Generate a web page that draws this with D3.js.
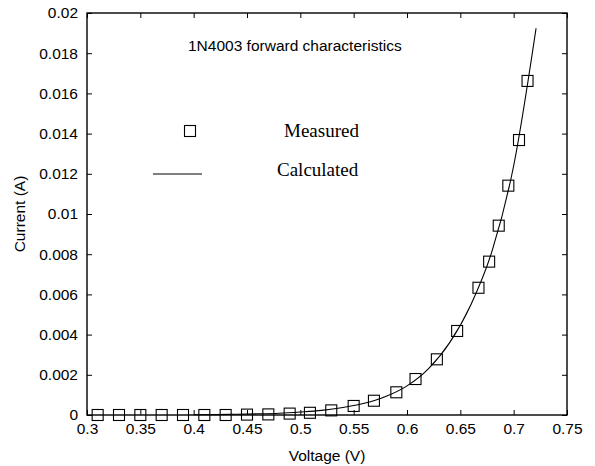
<!DOCTYPE html>
<html>
<head>
<meta charset="utf-8">
<script src="https://cdn.jsdelivr.net/npm/d3@7"></script>
<style>
  body { margin: 0; background: #fff; }
  svg text { fill: #000; }
  .tick-label { font-family: "Liberation Sans", Arial, sans-serif; font-size: 15.5px; }
  .axis-label { font-family: "Liberation Sans", Arial, sans-serif; font-size: 15.5px; }
  .legend-text { font-family: "Liberation Serif", "Times New Roman", serif; font-size: 19px; }
</style>
</head>
<body>
<div class="chart"></div>
<script>
// measured points (voltage V, current A)
const measuredV = [0.31, 0.33, 0.35, 0.37, 0.39, 0.41, 0.43, 0.45, 0.47, 0.49,
  0.509, 0.529, 0.55, 0.569, 0.59, 0.608, 0.628, 0.647, 0.667, 0.677, 0.686, 0.695, 0.705, 0.713];
const measuredI = [0, 0, 0, 0, 0, 0, 0, 0.00002, 0.00003, 0.00007,
  0.00011, 0.00023, 0.00045, 0.00071, 0.00113, 0.00179, 0.00277, 0.00418, 0.00633, 0.00763, 0.00942, 0.01141, 0.01368, 0.01662];

// calculated curve
const calcV = [0.40, 0.42, 0.44, 0.46, 0.48, 0.50, 0.52, 0.54, 0.56, 0.58, 0.60, 0.62, 0.64, 0.66, 0.68, 0.70, 0.721];
const calcI = [0.00001, 0.00002, 0.00004, 0.00006, 0.00009, 0.00015, 0.00023, 0.00037, 0.00058, 0.00092, 0.00145, 0.0023, 0.0036, 0.0055, 0.0082, 0.0124, 0.01924];

const xTicks = [0.3, 0.35, 0.4, 0.45, 0.5, 0.55, 0.6, 0.65, 0.7, 0.75];
const yTicks = [0, 0.002, 0.004, 0.006, 0.008, 0.01, 0.012, 0.014, 0.016, 0.018, 0.02];

const titleText = "1N4003 forward characteristics";
const legendNames = ["Measured", "Calculated"];

const width = 595, height = 466;
const margin = { top: 13, right: 28, bottom: 51, left: 87 };

const svg = d3.select(".chart")
  .append("svg")
  .attr("width", width)
  .attr("height", height);

const x = d3.scaleLinear()
  .domain([0.3, 0.75])
  .range([margin.left, width - margin.right]);

const y = d3.scaleLinear()
  .domain([0, 0.02])
  .range([height - margin.bottom, margin.top]);

const tickLen = 5;

// bottom axis (ticks inward)
svg.append("g")
  .attr("transform", "translate(0," + y(0) + ")")
  .call(d3.axisBottom(x).tickValues(xTicks).tickSize(-tickLen).tickPadding(tickLen + 3)
    .tickFormat(d => String(+d.toFixed(2))))
  .call(g => g.select(".domain").remove())
  .call(g => g.selectAll("text").attr("class", "tick-label").attr("font-size", null).attr("font-family", null));

// top axis ticks
svg.append("g")
  .attr("transform", "translate(0," + y(0.02) + ")")
  .call(d3.axisTop(x).tickValues(xTicks).tickSize(-tickLen).tickFormat(""))
  .call(g => g.select(".domain").remove());

// left axis
svg.append("g")
  .attr("transform", "translate(" + x(0.3) + ",0)")
  .call(d3.axisLeft(y).tickValues(yTicks).tickSize(-tickLen).tickPadding(tickLen + 4)
    .tickFormat(d => String(+d.toFixed(3))))
  .call(g => g.select(".domain").remove())
  .call(g => g.selectAll("text").attr("class", "tick-label").attr("font-size", null).attr("font-family", null));

// right axis ticks
svg.append("g")
  .attr("transform", "translate(" + x(0.75) + ",0)")
  .call(d3.axisRight(y).tickValues(yTicks).tickSize(-tickLen).tickFormat(""))
  .call(g => g.select(".domain").remove());

// frame
svg.append("rect")
  .attr("x", x(0.3))
  .attr("y", y(0.02))
  .attr("width", x(0.75) - x(0.3))
  .attr("height", y(0) - y(0.02))
  .attr("fill", "none")
  .attr("stroke", "#000")
  .attr("stroke-width", 1.4);

// calculated line
const calc = calcV.map((v, i) => ({ v: v, i: calcI[i] }));
svg.append("path")
  .datum(calc)
  .attr("fill", "none")
  .attr("stroke", "#000")
  .attr("stroke-width", 1.1)
  .attr("d", d3.line().x(d => x(d.v)).y(d => y(d.i)).curve(d3.curveMonotoneX));

// measured squares
const sq = 11;
const measured = measuredV.map((v, i) => ({ v: v, i: measuredI[i] }));
svg.append("g")
  .selectAll("rect")
  .data(measured)
  .enter()
  .append("rect")
  .attr("x", d => x(d.v) - sq / 2)
  .attr("y", d => y(d.i) - sq / 2)
  .attr("width", sq)
  .attr("height", sq)
  .attr("fill", "none")
  .attr("stroke", "#000")
  .attr("stroke-width", 1.1);

// title inside plot
svg.append("text")
  .attr("class", "axis-label")
  .attr("x", 188)
  .attr("y", 51)
  .text(titleText);

// legend
svg.append("rect")
  .attr("x", 190 - sq / 2)
  .attr("y", 131 - sq / 2)
  .attr("width", sq)
  .attr("height", sq)
  .attr("fill", "none")
  .attr("stroke", "#000")
  .attr("stroke-width", 1.1);
svg.append("text")
  .attr("class", "legend-text")
  .attr("x", 284)
  .attr("y", 137)
  .text(legendNames[0]);
svg.append("line")
  .attr("x1", 153).attr("x2", 202)
  .attr("y1", 174).attr("y2", 174)
  .attr("stroke", "#000")
  .attr("stroke-width", 1.1);
svg.append("text")
  .attr("class", "legend-text")
  .attr("x", 277)
  .attr("y", 176)
  .text(legendNames[1]);

// axis labels
svg.append("text")
  .attr("class", "axis-label")
  .attr("x", (x(0.3) + x(0.75)) / 2)
  .attr("y", 461)
  .attr("text-anchor", "middle")
  .text("Voltage (V)");

svg.append("text")
  .attr("class", "axis-label")
  .attr("transform", "translate(25," + (y(0) + y(0.02)) / 2 + ") rotate(-90)")
  .attr("text-anchor", "middle")
  .text("Current (A)");
</script>
</body>
</html>
